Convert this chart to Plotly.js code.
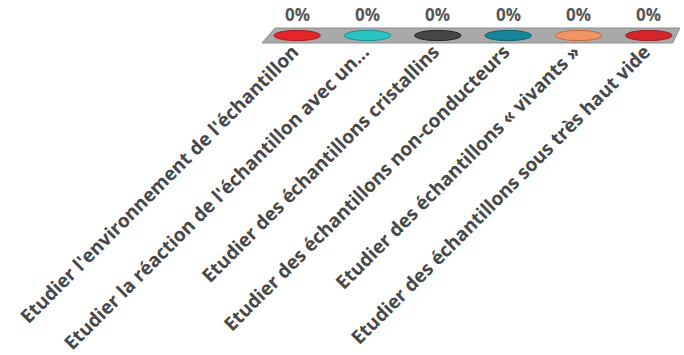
<!DOCTYPE html>
<html>
<head>
<meta charset="utf-8">
<script src="https://cdn.plot.ly/plotly-3.0.1.min.js"></script>
<style>
  html, body { margin: 0; padding: 0; background: #ffffff; }
  #chart { width: 684px; height: 355px; }
</style>
</head>
<body>
<div id="chart"></div>
<script>
const categories = [
  "Etudier l'environnement de l'échantillon",
  "Etudier la réaction de l'échantillon avec un...",
  "Etudier des échantillons cristallins",
  "Etudier des échantillons non-conducteurs",
  "Etudier des échantillons « vivants »",
  "Etudier des échantillons sous très haut vide"
];
const values = [0, 0, 0, 0, 0, 0];
const discColors = ["#e3242b", "#2cc3c3", "#464646", "#17869a", "#f29565", "#d3262c"];
const discEdges  = ["#a81a1f", "#1a8f8f", "#222222", "#0f5f6d", "#c06a40", "#9b1b20"];

const idx = categories.map((c, i) => i);

const shapes = [];
// floor platform (parallelogram)
shapes.push({
  type: 'path', xref: 'x', yref: 'paper', layer: 'below',
  path: 'M -0.5,0 L 5.34,0 L 5.44,1 L -0.315,1 Z',
  fillcolor: '#a9a9a9', line: { color: '#8c8c8c', width: 1 }
});
// discs (tops of zero-height cylinders) from data
values.forEach((v, i) => {
  shapes.push({
    type: 'circle', xref: 'x', yref: 'y', layer: 'above',
    x0: i - 0.33, x1: i + 0.33, y0: v - 0.68, y1: v + 0.68,
    fillcolor: discColors[i], line: { color: discEdges[i], width: 1 }
  });
});

const annotations = values.map((v, i) => ({
  x: i, y: v, xref: 'x', yref: 'y',
  text: v + '%', showarrow: false, yanchor: 'bottom', yshift: 8,
  font: { family: 'Open Sans, Arial, sans-serif', size: 17, color: '#555555', weight: 'bold' }
}));

const trace = {
  type: 'scatter', mode: 'markers',
  x: idx, y: values,
  marker: { size: 1, color: 'rgba(0,0,0,0)' },
  hoverinfo: 'skip', showlegend: false
};

const layout = {
  width: 684, height: 355,
  margin: { l: 262, r: 0, t: 28, b: 312 },
  paper_bgcolor: '#ffffff', plot_bgcolor: 'rgba(0,0,0,0)',
  showlegend: false,
  xaxis: {
    range: [-0.5, 5.5],
    tickmode: 'array', tickvals: idx, ticktext: categories,
    tickangle: -45, ticks: '', showgrid: false, zeroline: false, showline: false,
    ticklabelstandoff: -7, ticklabelshift: -4,
    tickfont: { family: 'Open Sans, Arial, sans-serif', size: 19, color: '#474747', weight: 'bold' },
    automargin: false
  },
  yaxis: {
    range: [-1, 1], visible: false, showgrid: false, zeroline: false
  },
  shapes: shapes,
  annotations: annotations
};

Plotly.newPlot('chart', [trace], layout, { displayModeBar: false, staticPlot: true });
</script>
</body>
</html>
